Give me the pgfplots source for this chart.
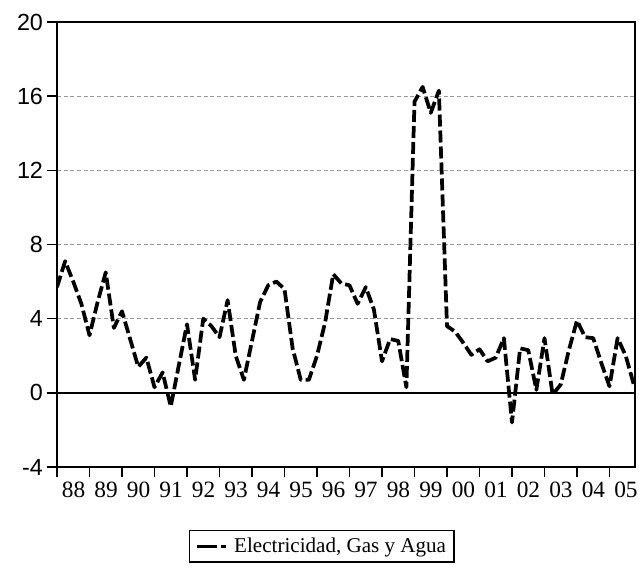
\documentclass[border=0pt]{standalone}
\usepackage{fontspec}
\setmainfont{Liberation Serif}
\setsansfont{Liberation Sans}
\usepackage{pgfplots}
\pgfplotsset{compat=1.18}
\usepackage{pgfplotstable}
\pgfplotstableread{
x y
1988.00 5.7
1988.25 7.1
1988.50 6.0
1988.75 4.8
1989.00 3.1
1989.25 4.9
1989.50 6.5
1989.75 3.5
1990.00 4.4
1990.25 2.9
1990.50 1.4
1990.75 1.9
1991.00 0.3
1991.25 1.1
1991.50 -0.74
1991.75 1.5
1992.00 3.7
1992.25 0.7
1992.50 4.0
1992.75 3.6
1993.00 3.0
1993.25 5.0
1993.50 2.0
1993.75 0.7
1994.00 2.8
1994.25 4.9
1994.50 5.8
1994.75 6.0
1995.00 5.6
1995.25 2.4
1995.50 0.7
1995.75 0.7
1996.00 2.0
1996.25 3.8
1996.50 6.4
1996.75 5.9
1997.00 5.8
1997.25 4.8
1997.50 5.7
1997.75 4.5
1998.00 1.7
1998.25 2.9
1998.50 2.8
1998.75 0.3
1999.00 15.7
1999.25 16.5
1999.50 15.1
1999.75 16.3
2000.00 3.6
2000.25 3.3
2000.50 2.7
2000.75 2.05
2001.00 2.35
2001.25 1.7
2001.50 1.9
2001.75 2.95
2002.00 -1.6
2002.25 2.4
2002.50 2.3
2002.75 0.16
2003.00 2.95
2003.25 -0.1
2003.50 0.45
2003.75 2.3
2004.00 3.9
2004.25 3.0
2004.50 2.95
2004.75 1.6
2005.00 0.35
2005.25 2.95
2005.50 2.0
2005.75 0.43
}\datatable
\begin{document}
\begin{tikzpicture}
\path[use as bounding box] (0pt,0pt) rectangle (479.25pt,-429.75pt);
\begin{axis}[
  at={(42.75pt,-16.5pt)}, anchor=north west,
  scale only axis, width=433.5pt, height=333.75pt,
  xmin=1988, xmax=2005.785, ymin=-4, ymax=20,
  axis line style={black, line width=1.1pt},
  xtick={1988,...,2005},
  xticklabels={88,89,90,91,92,93,94,95,96,97,98,99,00,01,02,03,04,05},
  xticklabel style={font=\fontsize{17.5}{18}\selectfont, xshift=12.4pt, yshift=-0.5pt},
  ytick={-4,0,4,8,12,16,20},
  yticklabel style={font=\fontsize{17.5}{18}\sffamily, xshift=0.5pt},
  /pgf/number format/assume math mode=true,
  tick align=outside, xtick pos=bottom, ytick pos=left,
  major tick length=7.5pt,
  tick style={black, line width=1pt},
  ymajorgrids,
  major grid style={gray!80, line width=0.5pt, dash pattern=on 3pt off 2pt},
  extra y ticks={0}, extra y tick labels={},
  extra y tick style={grid=major, major grid style={solid, black, line width=1.3pt}},
  legend style={at={(0.458,-0.1416)}, anchor=north, draw=black, line width=1pt,
    font=\fontsize{15.8}{16}\selectfont, inner xsep=4pt, inner ysep=3.5pt},
  legend cell align=left,
  legend image code/.code={\draw[solid, line width=2.6pt] (0pt,0pt) -- (15.5pt,0pt);
    \draw[solid, line width=2.6pt] (18pt,0pt) -- (22pt,0pt);},
  legend image post style={xshift=-2pt},
]
\addplot[black, line width=2.8pt, dash pattern=on 9pt off 3pt, line join=round] table[x=x, y=y] {\datatable};
\addlegendentry{\hspace{3pt}Electricidad, Gas y Agua}
\end{axis}
\end{tikzpicture}
\end{document}
